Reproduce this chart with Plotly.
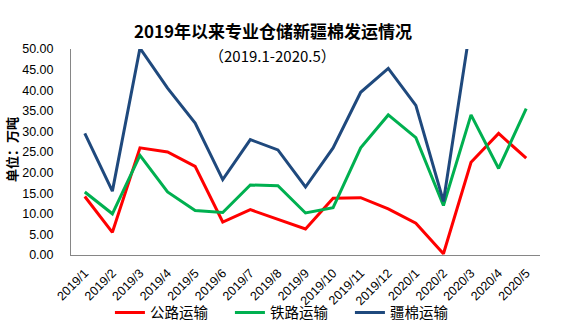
import plotly.graph_objects as go

months = ["2019/1","2019/2","2019/3","2019/4","2019/5","2019/6","2019/7","2019/8","2019/9",
          "2019/10","2019/11","2019/12","2020/1","2020/2","2020/3","2020/4","2020/5"]
road = [14.2, 5.5, 26.0, 25.0, 21.5, 8.0, 11.0, 8.7, 6.3, 13.8, 13.9, 11.2, 7.7, 0.3, 22.5, 29.5, 23.5]
rail = [15.3, 10.0, 24.2, 15.3, 10.8, 10.3, 17.0, 16.8, 10.2, 11.5, 26.0, 34.0, 28.5, 12.0, 34.0, 21.0, 35.5]
total = [29.5, 15.5, 50.2, 40.5, 32.0, 18.3, 28.0, 25.5, 16.5, 26.0, 39.5, 45.3, 36.3, 13.0, 56.5, 50.5, 59.0]
yticks = [0, 5, 10, 15, 20, 25, 30, 35, 40, 45, 50]

cjk = "Noto Sans CJK SC"
num = "Liberation Sans"

fig = go.Figure()
fig.add_trace(go.Scatter(x=months, y=road, mode="lines", name="公路运输",
                         line=dict(color="#FF0000", width=3)))
fig.add_trace(go.Scatter(x=months, y=rail, mode="lines", name="铁路运输",
                         line=dict(color="#00B050", width=3)))
fig.add_trace(go.Scatter(x=months, y=total, mode="lines", name="疆棉运输",
                         line=dict(color="#1F497D", width=3)))

fig.update_layout(
    width=569, height=328,
    margin=dict(l=71, r=29, t=49, b=73, autoexpand=False),
    paper_bgcolor="white", plot_bgcolor="white",
    showlegend=True,
    legend=dict(orientation="h", x=0.083, xanchor="left", y=-0.28, yanchor="middle",
                font=dict(family=cjk, size=14.5, color="#000"), entrywidth=75,
                itemwidth=30, tracegroupgap=0, bgcolor="rgba(0,0,0,0)"),
    annotations=[
        dict(text="<b>2019年以来专业仓储新疆棉发运情况</b>", xref="paper", yref="paper",
             x=0.43, y=1.0, yshift=19, showarrow=False, xanchor="center", yanchor="middle",
             font=dict(family=cjk, size=17, color="#000")),
        dict(text="（2019.1-2020.5）", xref="paper", yref="paper",
             x=0.43, y=1.0, yshift=-6, showarrow=False, xanchor="center", yanchor="middle",
             font=dict(family=cjk, size=15, color="#000")),
        dict(text="<b>单位：万吨</b>", xref="paper", yref="paper", textangle=-90,
             x=0, xshift=-59, y=0.51, showarrow=False, xanchor="center", yanchor="middle",
             font=dict(family=cjk, size=13, color="#000")),
    ],
)
fig.update_xaxes(type="category", range=[-0.5, 16.5], tickangle=-45, automargin=False,
                 showline=True, linecolor="#868686", linewidth=1, ticks="", showgrid=False,
                 ticklabelstandoff=5,
                 tickfont=dict(family=num, size=12.5, color="#000"))
fig.update_yaxes(range=[0, 50], tickvals=yticks, tickformat=".2f", showline=True, automargin=False,
                 linecolor="#868686", linewidth=1, ticks="", showgrid=False, zeroline=False,
                 ticklabelstandoff=14,
                 tickfont=dict(family=num, size=12.5, color="#000"))

fig.write_html("out.html")
